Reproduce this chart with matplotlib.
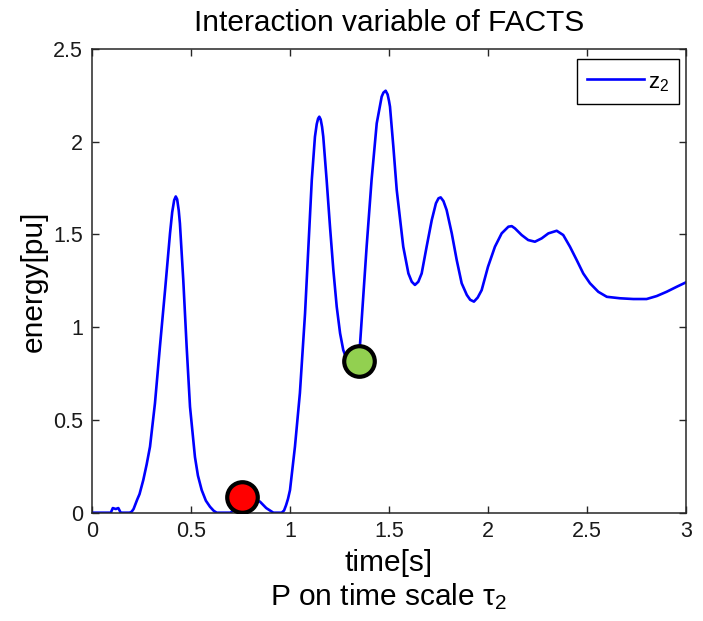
import matplotlib
matplotlib.use("Agg")
import matplotlib.pyplot as plt

plt.rcParams["font.family"] = ["Liberation Sans", "DejaVu Sans"]
plt.rcParams["mathtext.default"] = "regular"

# curve (time in s, energy in pu)
time_s = [0.0, 0.05, 0.095, 0.105, 0.12, 0.133, 0.145, 0.16, 0.19, 0.2,
          0.21, 0.217, 0.228, 0.24, 0.25, 0.259, 0.276, 0.293, 0.318, 0.343,
          0.369, 0.394, 0.405, 0.415, 0.423, 0.43, 0.438, 0.444, 0.452, 0.461,
          0.478, 0.495, 0.52, 0.535, 0.554, 0.575, 0.596, 0.615, 0.63, 0.7,
          0.73, 0.76, 0.8, 0.848, 0.88, 0.916, 0.958, 0.97, 0.98, 0.99,
          1.0, 1.025, 1.05, 1.076, 1.093, 1.11, 1.126, 1.135, 1.142, 1.148,
          1.155, 1.162, 1.168, 1.185, 1.202, 1.219, 1.236, 1.253, 1.269, 1.28,
          1.29, 1.32, 1.345, 1.354, 1.37, 1.387, 1.412, 1.438, 1.463, 1.472,
          1.483, 1.493, 1.5, 1.505, 1.522, 1.539, 1.556, 1.572, 1.598, 1.615,
          1.631, 1.648, 1.665, 1.69, 1.716, 1.737, 1.75, 1.761, 1.775, 1.791,
          1.817, 1.842, 1.867, 1.893, 1.91, 1.929, 1.948, 1.968, 2.0, 2.035,
          2.069, 2.103, 2.12, 2.136, 2.17, 2.203, 2.237, 2.271, 2.305, 2.347,
          2.38, 2.414, 2.448, 2.481, 2.515, 2.557, 2.6, 2.667, 2.734, 2.801,
          2.852, 2.902, 2.953, 3.0]
energy = [0.0, 0.0, 0.0, 0.025, 0.02, 0.025, 0.0, 0.0, 0.0, 0.005,
          0.02, 0.04, 0.07, 0.10, 0.14, 0.176, 0.26, 0.356, 0.59, 0.895,
          1.20, 1.506, 1.62, 1.685, 1.705, 1.69, 1.63, 1.56, 1.42, 1.254,
          0.895, 0.571, 0.30, 0.20, 0.122, 0.065, 0.032, 0.01, 0.0, 0.0,
          0.03, 0.075, 0.07, 0.06, 0.025, 0.0, 0.0, 0.012, 0.04, 0.075,
          0.122, 0.356, 0.645, 1.075, 1.434, 1.794, 2.027, 2.095, 2.125, 2.135,
          2.12, 2.08, 2.027, 1.794, 1.542, 1.308, 1.11, 0.967, 0.877, 0.845,
          0.83, 0.81, 0.84, 0.913, 1.164, 1.434, 1.794, 2.099, 2.243, 2.265,
          2.275, 2.255, 2.22, 2.189, 1.973, 1.74, 1.58, 1.434, 1.29, 1.245,
          1.228, 1.245, 1.29, 1.434, 1.578, 1.668, 1.695, 1.70, 1.68, 1.632,
          1.506, 1.362, 1.237, 1.174, 1.148, 1.138, 1.16, 1.20, 1.326, 1.434,
          1.506, 1.542, 1.545, 1.533, 1.497, 1.47, 1.461, 1.479, 1.506, 1.52,
          1.497, 1.434, 1.362, 1.29, 1.237, 1.191, 1.164, 1.156, 1.152, 1.152,
          1.168, 1.191, 1.218, 1.242]

# highlighted points
marker_t = [0.759, 1.347]
marker_e = [0.086, 0.819]
marker_colors = ["#ff0000", "#92d050"]

xticks = [0, 0.5, 1, 1.5, 2, 2.5, 3]
xticklabels = ["0", "0.5", "1", "1.5", "2", "2.5", "3"]
yticks = [0, 0.5, 1, 1.5, 2, 2.5]
yticklabels = ["0", "0.5", "1", "1.5", "2", "2.5"]

fig = plt.figure(figsize=(7.03, 6.21), dpi=100)
ax = fig.add_axes([92 / 703, 1 - 512.7 / 621, 594 / 703, 463.7 / 621])

ax.plot(time_s, energy, color="#0000ff", lw=1.9, label="z$_2$")
for t, e, c in zip(marker_t, marker_e, marker_colors):
    ax.plot(t, e, "o", ms=22, mfc=c, mec="black", mew=3, zorder=5)

ax.set_xlim(0, 3)
ax.set_ylim(0, 2.5)
ax.set_xticks(xticks)
ax.set_xticklabels(xticklabels)
ax.set_yticks(yticks)
ax.set_yticklabels(yticklabels)
ax.tick_params(direction="in", top=True, right=True, length=5, width=1,
               labelsize=15.5, color="0.15", labelcolor="0.1")
ax.tick_params(axis="x", pad=6)
ax.tick_params(axis="y", pad=6.5)
for s in ax.spines.values():
    s.set_color("0.15")
    s.set_linewidth(1.1)

ax.set_title("Interaction variable of FACTS", fontsize=21.5, pad=13)
ax.set_ylabel("energy[pu]", fontsize=21.5, labelpad=4)
fig.text(389 / 703, 1 - 571 / 621, "time[s]", fontsize=21.5,
         ha="center", va="baseline")
fig.text(389 / 703, 1 - 605 / 621, "P on time scale τ$_2$", fontsize=21.5,
         ha="center", va="baseline")

leg = ax.legend(loc="upper right", bbox_to_anchor=(0.9887, 0.9778),
                borderaxespad=0, fontsize=16, handlelength=2.55,
                handleheight=1.2, handletextpad=0.2, borderpad=0.45,
                fancybox=False, edgecolor="black", framealpha=1)
leg.get_frame().set_linewidth(1.0)

fig.savefig("out.png", dpi=100)
